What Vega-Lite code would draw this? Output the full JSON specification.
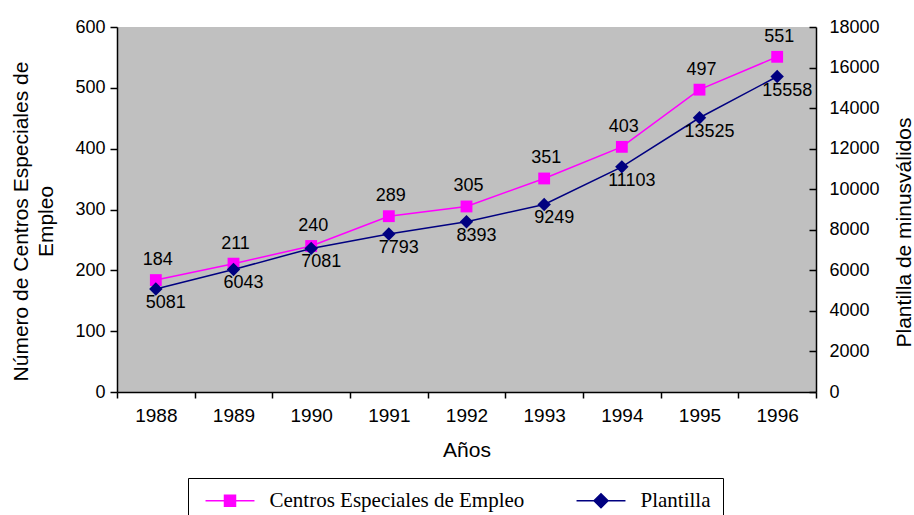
{
  "$schema": "https://vega.github.io/schema/vega-lite/v6.json",
  "width": 699,
  "height": 365,
  "autosize": "none",
  "padding": {"left": 117, "top": 27, "right": 98, "bottom": 123},
  "background": "white",
  "config": {
    "view": {"fill": "#c0c0c0", "stroke": null},
    "font": "Liberation Sans",
    "axis": {
      "grid": false,
      "domainColor": "black",
      "domainWidth": 1.5,
      "tickColor": "black",
      "tickWidth": 1.5,
      "labelColor": "black",
      "titleColor": "black",
      "labelFont": "Liberation Sans",
      "titleFont": "Liberation Sans",
      "titleFontWeight": "normal"
    },
    "legend": {
      "orient": "none",
      "legendX": 71,
      "legendY": 451,
      "direction": "horizontal",
      "strokeColor": "black",
      "fillColor": "white",
      "padding": 12,
      "labelFont": "Liberation Serif",
      "labelFontSize": 21,
      "labelColor": "black",
      "labelLimit": 400,
      "labelOffset": 29,
      "columnPadding": 46,
      "symbolSize": 121,
      "symbolStrokeWidth": 1.5,
      "symbolOffset": 19.5,
      "symbolOpacity": 1
    }
  },
  "encoding": {
    "x": {
      "field": "anio",
      "type": "ordinal",
      "bandPosition": 0.5,
      "scale": {"type": "band", "paddingInner": 0, "paddingOuter": 0},
      "axis": {
        "title": "Años",
        "titleFontSize": 21,
        "titlePadding": 14,
        "labelAngle": 0,
        "labelFontSize": 19,
        "labelPadding": 8,
        "tickBand": "extent",
        "tickSize": 6
      }
    }
  },
  "layer": [
    {
      "data": {
        "values": [
          {"anio": "1988", "centros": 184},
          {"anio": "1989", "centros": 211},
          {"anio": "1990", "centros": 240},
          {"anio": "1991", "centros": 289},
          {"anio": "1992", "centros": 305},
          {"anio": "1993", "centros": 351},
          {"anio": "1994", "centros": 403},
          {"anio": "1995", "centros": 497},
          {"anio": "1996", "centros": 551}
        ]
      },
      "encoding": {
        "y": {
          "field": "centros",
          "type": "quantitative",
          "scale": {"domain": [0, 600]},
          "axis": {
            "orient": "left",
            "values": [0, 100, 200, 300, 400, 500, 600],
            "labelFontSize": 18,
            "labelPadding": 5,
            "tickSize": 7,
            "title": ["Número de Centros Especiales de", "Empleo"],
            "titleFontSize": 21,
            "titleLineHeight": 25,
            "titleAngle": -90,
            "titleAlign": "center",
            "titleBaseline": "top",
            "titleX": -107,
            "titleY": 194
          }
        }
      },
      "layer": [
        {"mark": {"type": "line", "color": "#ff00ff", "strokeWidth": 1.5}},
        {"mark": {"type": "point", "shape": "square", "filled": true, "size": 140, "opacity": 1, "color": "#ff00ff"}},
        {
          "mark": {"type": "text", "fontSize": 18, "dy": -20, "dx": 2, "color": "black", "font": "Liberation Sans"},
          "encoding": {"text": {"field": "centros", "type": "quantitative"}}
        }
      ]
    },
    {
      "data": {
        "values": [
          {"anio": "1988", "plantilla": 5081},
          {"anio": "1989", "plantilla": 6043},
          {"anio": "1990", "plantilla": 7081},
          {"anio": "1991", "plantilla": 7793},
          {"anio": "1992", "plantilla": 8393},
          {"anio": "1993", "plantilla": 9249},
          {"anio": "1994", "plantilla": 11103},
          {"anio": "1995", "plantilla": 13525},
          {"anio": "1996", "plantilla": 15558}
        ]
      },
      "encoding": {
        "y": {
          "field": "plantilla",
          "type": "quantitative",
          "scale": {"domain": [0, 18000]},
          "axis": {
            "orient": "right",
            "values": [0, 2000, 4000, 6000, 8000, 10000, 12000, 14000, 16000, 18000],
            "format": "d",
            "labelFontSize": 18,
            "labelPadding": 20,
            "tickSize": -7,
            "title": "Plantilla de minusválidos",
            "titleFontSize": 21,
            "titleAngle": -90,
            "titleAlign": "center",
            "titleBaseline": "top",
            "titleX": 77,
            "titleY": 205
          }
        }
      },
      "layer": [
        {"mark": {"type": "line", "color": "#000080", "strokeWidth": 1.5}},
        {"mark": {"type": "point", "shape": "diamond", "filled": true, "size": 180, "opacity": 1, "color": "#000080"}},
        {
          "mark": {"type": "text", "fontSize": 18, "dy": 14, "dx": 10, "color": "black", "font": "Liberation Sans"},
          "encoding": {"text": {"field": "plantilla", "type": "quantitative", "format": "d"}}
        }
      ]
    },
    {
      "data": {
        "values": [
          {"serie": "Centros Especiales de Empleo"},
          {"serie": "Plantilla"}
        ]
      },
      "transform": [{"filter": "false"}],
      "mark": {"type": "point", "filled": true, "opacity": 1},
      "encoding": {
        "fill": {
          "field": "serie",
          "type": "nominal",
          "scale": {"domain": ["Centros Especiales de Empleo", "Plantilla"], "range": ["#ff00ff", "#000080"]},
          "legend": {"title": null}
        },
        "stroke": {
          "field": "serie",
          "type": "nominal",
          "scale": {"domain": ["Centros Especiales de Empleo", "Plantilla"], "range": ["#ff00ff", "#000080"]},
          "legend": {"title": null}
        },
        "shape": {
          "field": "serie",
          "type": "nominal",
          "scale": {
            "domain": ["Centros Especiales de Empleo", "Plantilla"],
            "range": ["M-4.45,0H4.45M-1,-1H1V1H-1Z", "M-4.45,0H4.45M0,-1.27L1.27,0L0,1.27L-1.27,0Z"]
          },
          "legend": {"title": null}
        }
      }
    }
  ],
  "resolve": {"scale": {"y": "independent"}}
}
